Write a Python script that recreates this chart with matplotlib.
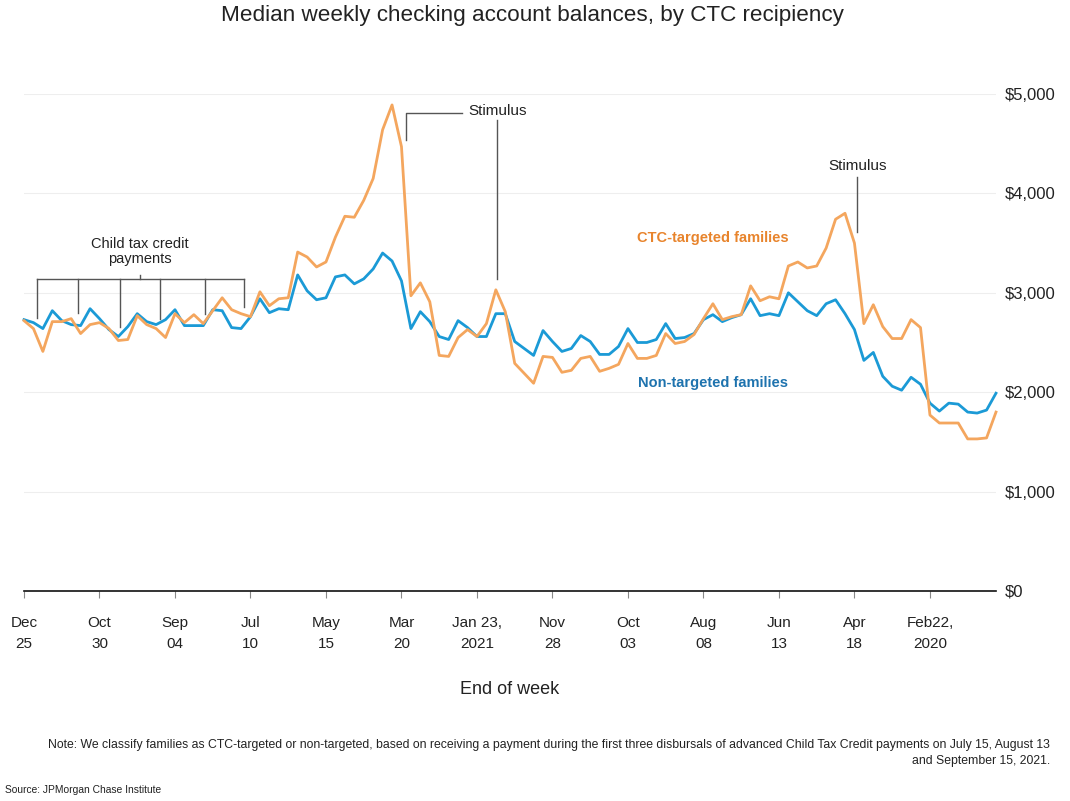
import matplotlib
matplotlib.use("Agg")
import matplotlib.pyplot as plt
import pandas as pd

plt.rcParams['font.family'] = ['Liberation Sans', 'DejaVu Sans']

# weekly medians, week ending Jan 04 2020 ... Dec 25 2021
weeks = pd.date_range('2020-01-04', '2021-12-25', freq='7D')

non_targeted = [1990, 1820, 1790, 1800, 1880, 1890, 1810, 1890, 2080, 2150,
                2020, 2060, 2160, 2400, 2320, 2630, 2790, 2930, 2890, 2770,
                2820, 2910, 3000, 2770, 2790, 2770, 2940, 2780, 2750, 2710,
                2780, 2730, 2590, 2550, 2540, 2690, 2530, 2500, 2500, 2640,
                2460, 2380, 2380, 2510, 2570, 2440, 2410, 2510, 2620, 2370,
                2440, 2510, 2790, 2790, 2560, 2560, 2650, 2720, 2530, 2560,
                2710, 2810, 2640, 3120, 3320, 3400, 3240, 3140, 3090, 3180,
                3160, 2950, 2930, 3020, 3180, 2830, 2840, 2800, 2940, 2760,
                2640, 2650, 2820, 2830, 2670, 2670, 2670, 2830, 2730, 2680,
                2710, 2790, 2660, 2560, 2630, 2740, 2840, 2670, 2680, 2720,
                2820, 2640, 2700, 2730]

ctc_targeted = [1800, 1540, 1530, 1530, 1690, 1690, 1690, 1770, 2650, 2730,
                2540, 2540, 2660, 2880, 2690, 3500, 3800, 3740, 3450, 3270,
                3250, 3310, 3270, 2940, 2960, 2920, 3070, 2780, 2760, 2730,
                2890, 2740, 2580, 2510, 2490, 2590, 2370, 2340, 2340, 2490,
                2280, 2240, 2210, 2360, 2340, 2220, 2200, 2350, 2360, 2090,
                2190, 2290, 2810, 3030, 2690, 2560, 2630, 2550, 2360, 2370,
                2910, 3100, 2970, 4470, 4890, 4640, 4150, 3930, 3760, 3770,
                3560, 3310, 3260, 3360, 3410, 2950, 2940, 2870, 3010, 2760,
                2790, 2830, 2950, 2820, 2690, 2780, 2700, 2790, 2550, 2640,
                2680, 2770, 2530, 2520, 2640, 2700, 2680, 2590, 2740, 2710,
                2710, 2410, 2640, 2720]

tick_dates = pd.date_range('2020-02-22', '2021-12-25', freq='56D')
tick_labels = ['Feb22,\n2020', 'Apr\n18', 'Jun\n13', 'Aug\n08', 'Oct\n03',
               'Nov\n28', 'Jan 23,\n2021', 'Mar\n20', 'May\n15', 'Jul\n10',
               'Sep\n04', 'Oct\n30', 'Dec\n25']

ctc_payments = pd.to_datetime(['2021-07-15', '2021-08-13', '2021-09-15',
                               '2021-10-15', '2021-11-15', '2021-12-15'])
ctc_bottoms = [2857, 2787, 2736, 2656, 2797, 2746]

ORANGE = '#F4A65E'
BLUE = '#1B9AD6'
GREY = '#555555'

fig = plt.figure(figsize=(10.70, 8.01), dpi=100)
ax = fig.add_axes([24/1070, 1-591/801, (996-24)/1070, (591-94)/801])

ax.plot(weeks, non_targeted, color=BLUE, lw=2.0, clip_on=False)
ax.plot(weeks, ctc_targeted, color=ORANGE, lw=2.0, clip_on=False)

# time runs right to left, values on the right
ax.set_xlim(weeks[-1], weeks[0])
ax.set_ylim(0, 5000)
ax.set_yticks([0, 1000, 2000, 3000, 4000, 5000])
ax.set_yticklabels(['$0', '$1,000', '$2,000', '$3,000', '$4,000', '$5,000'])
ax.yaxis.tick_right()
ax.tick_params(axis='y', length=0, pad=6, labelsize=12, labelcolor='#222222')
ax.grid(axis='y', color='#eeeeee', lw=0.8)
ax.set_axisbelow(True)

ax.set_xticks(tick_dates)
ax.set_xticklabels(tick_labels, fontsize=11, linespacing=1.6)
ax.tick_params(axis='x', length=5, color='#888888', pad=13, labelcolor='#222222')
ax.set_xlabel('End of week', fontsize=13, labelpad=22, color='#222222')

for s in ['top', 'left', 'right']:
    ax.spines[s].set_visible(False)
ax.spines['bottom'].set_color('#111111')
ax.spines['bottom'].set_linewidth(1.2)

# stimulus annotations
d = pd.Timestamp
ax.text(d('2021-01-08'), 4830, 'Stimulus', ha='center', va='center', fontsize=11, color='#222222')
ax.plot([d('2021-03-17'), d('2021-03-17'), d('2021-02-03')], [4533, 4804, 4804], color=GREY, lw=1)
ax.plot([d('2021-01-08'), d('2021-01-08')], [4734, 3136], color=GREY, lw=1)

ax.text(d('2020-04-16'), 4276, 'Stimulus', ha='center', va='center', fontsize=11, color='#222222')
ax.plot([d('2020-04-16'), d('2020-04-16')], [4165, 3612], color=GREY, lw=1)

# child tax credit bracket
ax.plot([ctc_payments[0], ctc_payments[-1]], [3136, 3136], color=GREY, lw=1)
for pd_, b in zip(ctc_payments, ctc_bottoms):
    ax.plot([pd_, pd_], [3136, b], color=GREY, lw=1)
ax.plot([d('2021-09-30'), d('2021-09-30')], [3136, 3176], color=GREY, lw=1)
ax.text(d('2021-09-30'), 3420, 'Child tax credit\npayments', ha='center', va='center',
        fontsize=10.5, color='#222222', linespacing=1.1)

ax.text(d('2020-08-01'), 3551, 'CTC-targeted families', ha='center', va='center',
        fontsize=10.5, fontweight='bold', color='#E8842C')
ax.text(d('2020-08-01'), 2092, 'Non-targeted families', ha='center', va='center',
        fontsize=10.5, fontweight='bold', color='#1E73AE')

fig.text(532/1070, 1-16/801, 'Median weekly checking account balances, by CTC recipiency',
         ha='center', va='center', fontsize=16.2, color='#222222')
fig.text(1050/1070, 1-753/801,
         'Note: We classify families as CTC-targeted or non-targeted, based on receiving a payment during the first three '
         'disbursals of advanced Child Tax Credit payments on July 15, August 13\nand September 15, 2021.',
         ha='right', va='center', multialignment='right', fontsize=8.83, color='#222222', linespacing=1.5)
fig.text(5/1070, 1-790/801, 'Source: JPMorgan Chase Institute', ha='left', va='center',
         fontsize=7.4, color='#222222')

fig.savefig('out.png', dpi=100)
